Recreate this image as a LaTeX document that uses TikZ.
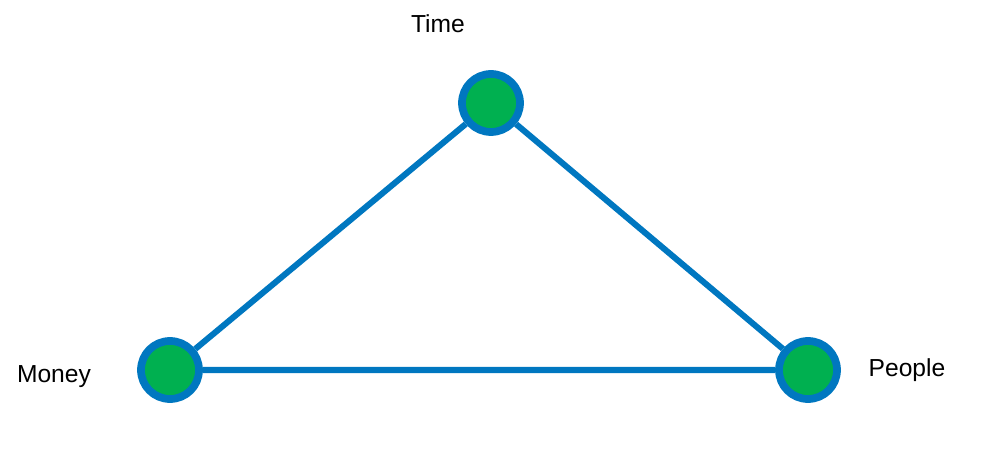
\documentclass[tikz,border=0pt]{standalone}
\usepackage{fontspec}
\setmainfont{Liberation Sans}
\definecolor{edgeblue}{HTML}{0077C0}
\definecolor{dotgreen}{HTML}{00B050}
\begin{document}
\begin{tikzpicture}[x=0.025cm,y=-0.025cm,
  dot/.style={circle,fill=dotgreen,draw=edgeblue,line width=5.5pt,minimum size=1.45cm,inner sep=0pt},
  lbl/.style={font=\fontsize{17.5}{20}\selectfont,inner sep=0pt},
  conn/.style={draw=edgeblue,line width=4.3pt}]
\useasboundingbox (0,0) rectangle (1002,464);
\node[dot] (t) at (491,103) {};
\node[dot] (m) at (170,370) {};
\node[dot] (p) at (808,370) {};
\begin{scope}[on background layer/.try]
\end{scope}
\path[conn] (t) -- (m) (m) -- (p) (p) -- (t);
\node[lbl] (tl) at (438,24) {Time};
\node[lbl] (ml) at (54,377) {Money};
\node[lbl] (pl) at (907,370) {People};
\end{tikzpicture}
\end{document}
